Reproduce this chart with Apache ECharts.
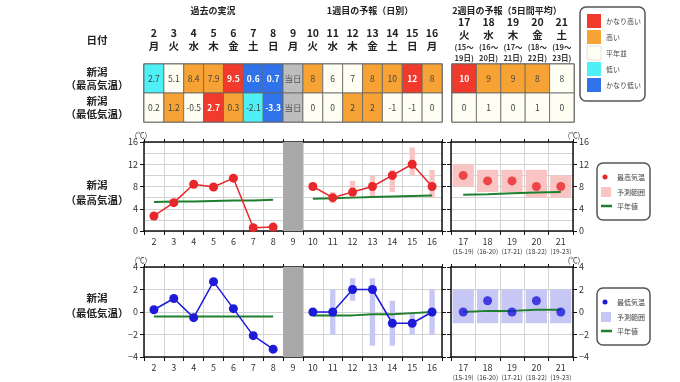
<!DOCTYPE html>
<html><head><meta charset="utf-8">
<script src="https://cdn.jsdelivr.net/npm/echarts@6/dist/echarts.min.js"></script>
<style>html,body{margin:0;padding:0;background:#fff}#c{width:680px;height:382px}</style>
</head><body><div id="c"></div>
<script>
// ---------- data ----------
const dailyDays = ['2','3','4','5','6','7','8','9','10','11','12','13','14','15','16'];
const dailyWeekdays = ['月','火','水','木','金','土','日','月','火','水','木','金','土','日','月'];
const weekDays = ['17','18','19','20','21'];
const weekWeekdays = ['火','水','木','金','土'];
const weekFrom = ['15','16','17','18','19'];
const weekTo = ['19','20','21','22','23'];
const todayIndex = 7; // day 9

// max temperature
const maxDaily = [2.7,5.1,8.4,7.9,9.5,0.6,0.7,null,8,6,7,8,10,12,8];
const maxDailyClass = [1,2,3,3,4,0,0,5,3,2,2,3,3,4,3];
const maxDailyNormal = [5.2,5.3,5.3,5.4,5.5,5.5,5.6,null,5.8,5.9,6.0,6.1,6.2,6.3,6.4];
const maxDailyLow  = [null,null,null,null,null,null,null,null,null,5,6,6,7,10,6];
const maxDailyHigh = [null,null,null,null,null,null,null,null,null,7,9,10,11,15,11];
const maxWeekly = [10,9,9,8,8];
const maxWeeklyClass = [4,3,3,3,2];
const maxWeeklyLow = [8,7,7,6,6];
const maxWeeklyHigh = [12,11,11,11,10];
const maxWeeklyNormal = [6.5,6.6,6.8,6.9,7.0];

// min temperature
const minDaily = [0.2,1.2,-0.5,2.7,0.3,-2.1,-3.3,null,0,0,2,2,-1,-1,0];
const minDailyClass = [2,3,2,4,3,1,0,5,2,2,3,3,2,2,2];
const minDailyNormal = [-0.4,-0.4,-0.4,-0.4,-0.4,-0.4,-0.4,null,-0.3,-0.3,-0.3,-0.2,-0.2,-0.1,0.0];
const minDailyLow  = [null,null,null,null,null,null,null,null,null,-2,1,-3,-3,-2,-2];
const minDailyHigh = [null,null,null,null,null,null,null,null,null,2,3,3,1,0,2];
const minWeekly = [0,1,0,1,0];
const minWeeklyClass = [2,2,2,2,2];
const minWeeklyLow = [-1,-1,-1,-1,-1];
const minWeeklyHigh = [2,2,2,2,2];
const minWeeklyNormal = [0.0,0.1,0.1,0.2,0.2];

const classNames = ['かなり低い','低い','平年並','高い','かなり高い'];
const legendOrder = [4,3,2,1,0];

// ---------- style ----------
const FONT = '"Noto Sans CJK JP","Noto Sans",sans-serif';
const classColors = ['#2f72ea','#4ef0f5','#fefef2','#f7a234','#f13a2c','#bdbdbd'];
const RED = '#e8272a', PINK = '#f9c4c4', BLUE = '#1d1ad8', LAV = '#c7c7f6', GREEN = '#1f7f2f', GRAY = '#a8a8a8';
const GRIDC = '#d2d2d2', AX = '#111';

function fmtMinus(v){ return String(v).replace('-', '−'); }

function cellText(vals, i, obsCount){
  if (i === todayIndex) return '当日';
  const v = vals[i];
  return i < obsCount ? v.toFixed(1) : String(v);
}

// table data
const tableL = [], tableR = [];
dailyDays.forEach((d,i)=>{
  tableL.push({value:[i,0,maxDailyClass[i]], t: cellText(maxDaily,i,7)});
  tableL.push({value:[i,1,minDailyClass[i]], t: cellText(minDaily,i,7)});
});
weekDays.forEach((d,i)=>{
  tableR.push({value:[i,0,maxWeeklyClass[i]], t: String(maxWeekly[i])});
  tableR.push({value:[i,1,minWeeklyClass[i]], t: String(minWeekly[i])});
});

function tableRender(src){
  return function(params, api){
    const c = api.coord([api.value(0), api.value(1)]);
    const s = api.size([1,1]);
    const cls = api.value(2);
    const strong = (cls === 0 || cls === 4);
    return {type:'group', children:[
      {type:'rect', shape:{x:c[0]-s[0]/2, y:c[1]-s[1]/2, width:s[0], height:s[1]},
       style:{fill:classColors[cls], stroke:'#666', lineWidth:0.8}},
      {type:'text', style:{text:src[params.dataIndex].t, x:c[0], y:c[1]+0.5, align:'center', verticalAlign:'middle',
        fill: strong ? '#fff' : (cls===5 ? '#555' : '#444'), fontSize:8.5, fontWeight: strong ? 'bold':'normal', fontFamily:FONT}}
    ]};
  };
}

function rangeRender(frac, color){
  return function(params, api){
    const x = api.value(0);
    const p1 = api.coord([x, api.value(1)]);
    const p2 = api.coord([x, api.value(2)]);
    const w = api.size([1,0])[0]*frac;
    return {type:'rect', shape:{x:p1[0]-w/2, y:p2[1], width:w, height:p1[1]-p2[1]}, style:{fill:color}};
  };
}
function bandRender(params, api){
  const c = api.coord([api.value(0), api.value(1)]);
  const w = api.size([1,0])[0];
  const cs = params.coordSys;
  return {type:'rect', shape:{x:c[0]-w/2, y:cs.y, width:w, height:cs.height}, style:{fill:GRAY}};
}
function rangeData(cats, lo, hi){
  const out = [];
  cats.forEach((c,i)=>{ if (lo[i] !== null) out.push([c, lo[i], hi[i]]); });
  return out;
}

// ---------- axes ----------
function xBottom(grid, data, fmt, margin){
  return {gridIndex:grid, type:'category', data, position:'bottom',
    axisLine:{onZero:false, lineStyle:{color:AX, width:1.5}},
    axisTick:{show:true, length:4, interval:0, lineStyle:{color:AX}},
    axisLabel:{interval:0, fontSize:9, color:'#333', margin, fontFamily:FONT, formatter:fmt,
      rich:{d:{fontSize:9, color:'#333', lineHeight:11, fontFamily:FONT}, p:{fontSize:6.5, color:'#333', lineHeight:9, fontFamily:FONT}}},
    splitLine:{show:true, interval:0, lineStyle:{color:GRIDC}}};
}
function xTop(grid, data){
  return {gridIndex:grid, type:'category', data, position:'top',
    axisLine:{onZero:false, lineStyle:{color:AX, width:1.5}},
    axisTick:{show:true, length:3, interval:0, lineStyle:{color:AX}},
    axisLabel:{show:false}, splitLine:{show:false}};
}
function yAx(grid, pos, min, max, interval, showLabel, minor){
  return {gridIndex:grid, type:'value', position:pos, min, max, interval,
    axisLine:{show:true, onZero:false, lineStyle:{color:AX, width:1.5}},
    axisTick:{show:true, length:4, lineStyle:{color:AX}},
    axisLabel:{show:showLabel, fontSize:9, color:'#333', margin:6, fontFamily:FONT, formatter:fmtMinus},
    splitLine:{show:true, lineStyle:{color:GRIDC}},
    minorTick:{show:false, splitNumber:2},
    minorSplitLine:{show:minor, lineStyle:{color:GRIDC}}};
}

const weekFmt = (v,i)=>`{d|${v}}\n{p|(${weekFrom[i]}-${weekTo[i]})}`;

const xAxis = [
  {gridIndex:0, type:'category', data:dailyDays, position:'top', axisLine:{show:false}, axisTick:{show:false},
   axisLabel:{interval:0, margin:11, formatter:(v,i)=>`{d|${v}}\n{d|${dailyWeekdays[i]}}`,
     rich:{d:{fontSize:10.5, fontWeight:'bold', lineHeight:13, color:'#222', fontFamily:FONT}}}},
  {gridIndex:1, type:'category', data:weekDays, position:'top', axisLine:{show:false}, axisTick:{show:false},
   axisLabel:{interval:0, margin:0, formatter:(v,i)=>`{d|${v}}\n{d|${weekWeekdays[i]}}\n{p|(${weekFrom[i]}～}\n{p|${weekTo[i]}日)}`,
     rich:{d:{fontSize:10.5, fontWeight:'bold', lineHeight:13, color:'#222', fontFamily:FONT},
           p:{fontSize:7.5, fontWeight:'bold', lineHeight:11, color:'#333', fontFamily:FONT}}}},
  xBottom(2, dailyDays, null, 6), xTop(2, dailyDays),
  xBottom(3, weekDays, weekFmt, 5), xTop(3, weekDays),
  xBottom(4, dailyDays, null, 6), xTop(4, dailyDays),
  xBottom(5, weekDays, weekFmt, 5), xTop(5, weekDays)
];
const yAxis = [
  {gridIndex:0, type:'category', data:['max','min'], inverse:true, show:false},
  {gridIndex:1, type:'category', data:['max','min'], inverse:true, show:false},
  yAx(2,'left',0,16,4,true,true), yAx(2,'right',0,16,4,false,true),
  yAx(3,'left',0,16,4,false,true), yAx(3,'right',0,16,4,true,true),
  yAx(4,'left',-4,4,2,true,false), yAx(4,'right',-4,4,2,false,false),
  yAx(5,'left',-4,4,2,false,false), yAx(5,'right',-4,4,2,true,false)
];

function chartSeries(xi, yi, cats, obs, normal, lo, hi, color, rangeColor, frac, isDaily){
  const s = [];
  if (isDaily) s.push({type:'custom', xAxisIndex:xi, yAxisIndex:yi, renderItem:bandRender,
    data:[[cats[todayIndex], 0]], encode:{x:0,y:1}, z:1, silent:true});
  s.push({type:'custom', xAxisIndex:xi, yAxisIndex:yi, renderItem:rangeRender(frac, rangeColor),
    data:rangeData(cats, lo, hi), encode:{x:0, y:[1,2]}, z:2, silent:true});
  s.push({type:'line', xAxisIndex:xi, yAxisIndex:yi, data:normal, showSymbol:false, symbol:'none',
    lineStyle:{color:GREEN, width:2}, connectNulls:false, z:3, silent:true});
  if (isDaily) s.push({type:'line', xAxisIndex:xi, yAxisIndex:yi, data:obs, symbol:'circle', symbolSize:9,
    itemStyle:{color}, lineStyle:{color, width:1.5}, connectNulls:false, z:4, silent:true});
  else s.push({type:'scatter', xAxisIndex:xi, yAxisIndex:yi, data:obs, symbol:'circle', symbolSize:9,
    itemStyle:{color}, z:4, silent:true});
  return s;
}

const series = [
  {type:'custom', xAxisIndex:0, yAxisIndex:0, renderItem:tableRender(tableL), data:tableL.map(d=>d.value), encode:{x:0,y:1}, silent:true},
  {type:'custom', xAxisIndex:1, yAxisIndex:1, renderItem:tableRender(tableR), data:tableR.map(d=>d.value), encode:{x:0,y:1}, silent:true},
  ...chartSeries(2,2,dailyDays,maxDaily,maxDailyNormal,maxDailyLow,maxDailyHigh,RED,PINK,0.27,true),
  ...chartSeries(4,4,weekDays,maxWeekly,maxWeeklyNormal,maxWeeklyLow,maxWeeklyHigh,RED,PINK,0.87,false),
  ...chartSeries(6,6,dailyDays,minDaily,minDailyNormal,minDailyLow,minDailyHigh,BLUE,LAV,0.27,true),
  ...chartSeries(8,8,weekDays,minWeekly,minWeeklyNormal,minWeeklyLow,minWeeklyHigh,BLUE,LAV,0.87,false)
];

// ---------- text / legends ----------
function T(text, x, y, size, opts){
  return {type:'text', x, y, style:Object.assign({text, fontSize:size, fontFamily:FONT, fill:'#222',
    align:'center', verticalAlign:'middle'}, opts||{})};
}
const graphics = [
  T('過去の実況', 213, 11, 9, {fontWeight:'bold'}),
  T('1週目の予報（日別）', 370, 11, 9, {fontWeight:'bold'}),
  T('2週目の予報（5日間平均）', 507, 11, 9, {fontWeight:'bold'}),
  T('日付', 97, 40, 10.5, {fontWeight:'bold'}),
  T('新潟', 97, 72, 10.5, {fontWeight:'bold'}),
  T('（最高気温）', 97, 85, 10.5, {fontWeight:'bold'}),
  T('新潟', 97, 101, 10.5, {fontWeight:'bold'}),
  T('（最低気温）', 97, 114, 10.5, {fontWeight:'bold'}),
  T('新潟', 97, 185, 10.5, {fontWeight:'bold'}),
  T('（最高気温）', 97, 200, 10.5, {fontWeight:'bold'}),
  T('新潟', 97, 298, 10.5, {fontWeight:'bold'}),
  T('（最低気温）', 97, 313, 10.5, {fontWeight:'bold'}),
  T('(℃)', 141, 135, 7.5, {fill:'#333'}),
  T('(℃)', 574, 135, 7.5, {fill:'#333'}),
  T('(℃)', 141, 260, 7.5, {fill:'#333'}),
  T('(℃)', 574, 260, 7.5, {fill:'#333'}),
  // class legend
  {type:'rect', shape:{x:580, y:7, width:65, height:94, r:6}, style:{fill:'#fff', stroke:'#555', lineWidth:1.5}}
];
legendOrder.forEach((cls,k)=>{
  const cy = 21 + k*16;
  graphics.push({type:'rect', shape:{x:587, y:cy-7, width:14, height:14}, style:{fill:classColors[cls], stroke: cls===2 ? '#ddd' : 'none', lineWidth:0.8}});
  graphics.push(T(classNames[cls], 606, cy, 7, {align:'left', fill:'#444'}));
});
function chartLegend(top, dotColor, rangeColor, name){
  return [
    {type:'rect', shape:{x:597, y:top, width:53, height:57, r:6}, style:{fill:'#fff', stroke:'#555', lineWidth:1.5}},
    {type:'circle', shape:{cx:605, cy:top+14, r:2.5}, style:{fill:dotColor}},
    T(name, 617, top+14, 7, {align:'left', fill:'#444'}),
    {type:'rect', shape:{x:601, y:top+24, width:10, height:10}, style:{fill:rangeColor}},
    T('予測範囲', 617, top+29, 7, {align:'left', fill:'#444'}),
    {type:'line', shape:{x1:601, y1:top+43, x2:612, y2:top+43}, style:{stroke:GREEN, lineWidth:2.5}},
    T('平年値', 617, top+43, 7, {align:'left', fill:'#444'})
  ];
}
graphics.push(...chartLegend(163, RED, PINK, '最高気温'));
graphics.push(...chartLegend(288, BLUE, LAV, '最低気温'));

const option = {
  backgroundColor:'#fff',
  animation:false,
  grid:[
    {left:144, top:64, width:298, height:58, show:true, borderColor:'#333', borderWidth:1.2, backgroundColor:'transparent'},
    {left:452, top:64, width:122, height:58, show:true, borderColor:'#333', borderWidth:1.2, backgroundColor:'transparent'},
    {left:144, top:142, width:298, height:89},
    {left:451, top:142, width:122, height:89},
    {left:144, top:267, width:298, height:90},
    {left:451, top:267, width:122, height:90}
  ],
  xAxis, yAxis, series,
  graphic: graphics
};
const chart = echarts.init(document.getElementById('c'), null, {renderer:'canvas'});
chart.setOption(option);
</script>
</body></html>
